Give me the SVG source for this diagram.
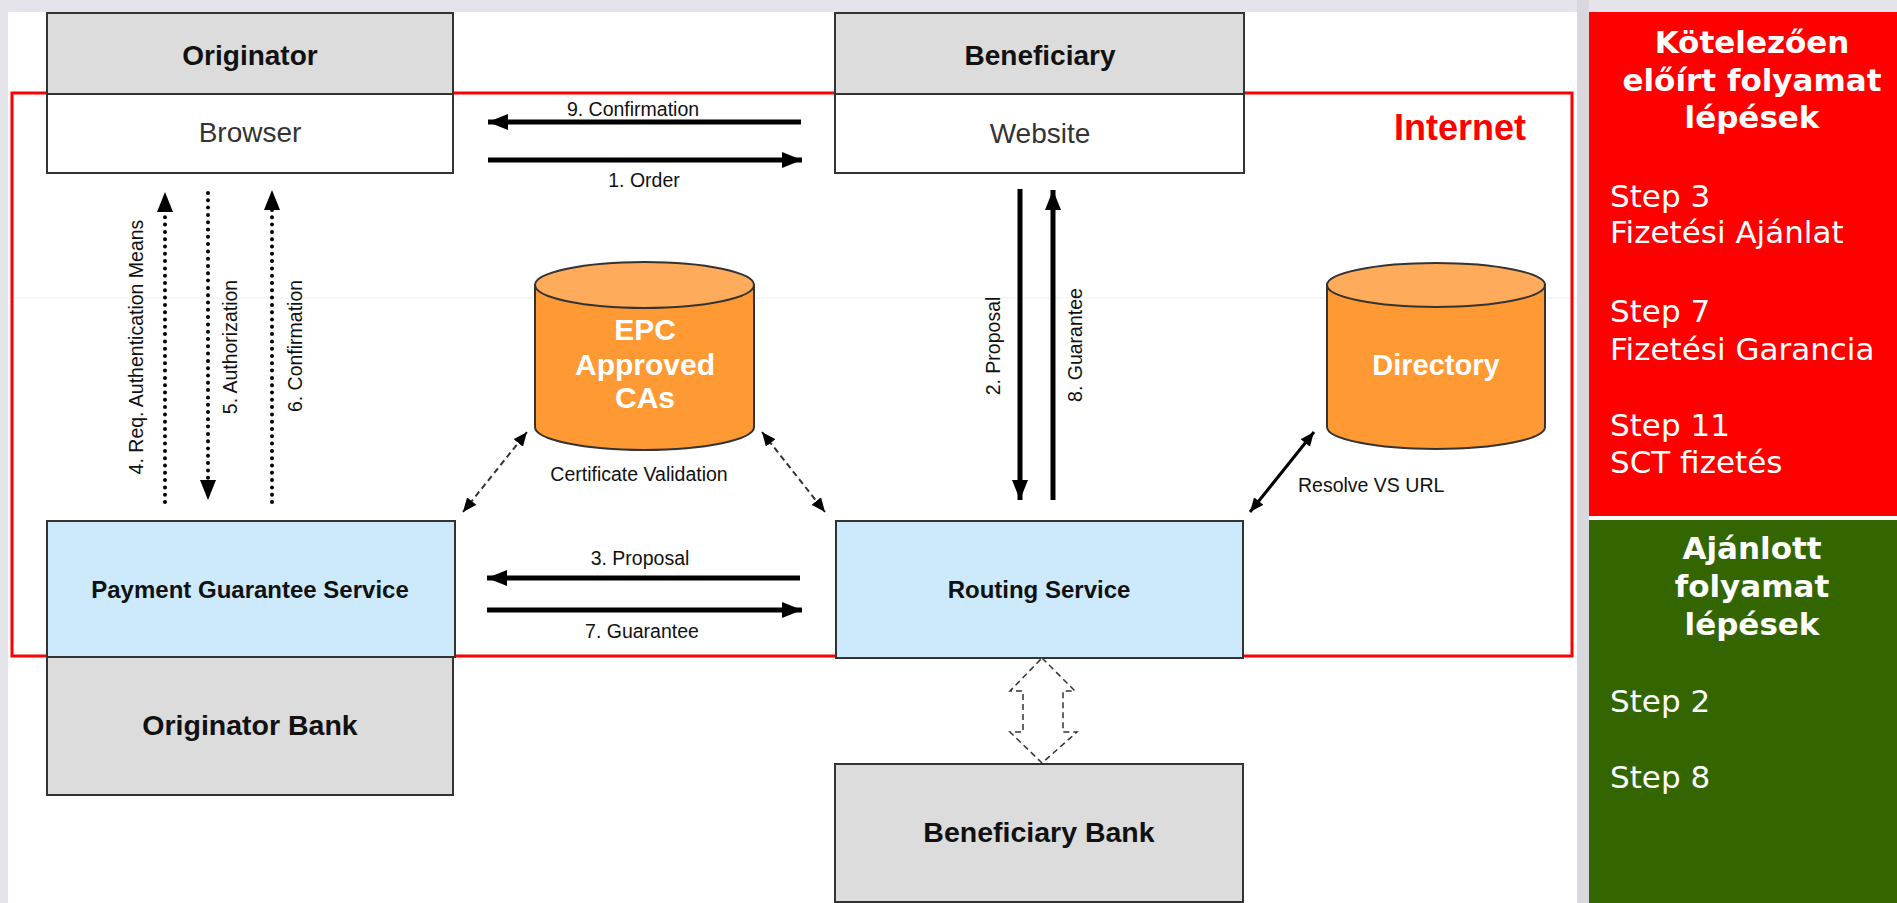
<svg xmlns="http://www.w3.org/2000/svg" width="1897" height="903" viewBox="0 0 1897 903">
<style>
.box{stroke:#333;stroke-width:2}
.hdr{fill:#dcdcdc}
.wht{fill:#fff}
.blu{fill:#cceafb}
.t{font-family:"Liberation Sans",Arial,sans-serif;fill:#111}
.b{font-weight:bold}
.lbl{font-family:"Liberation Sans",Arial,sans-serif;font-size:19.5px;fill:#111}
.p{font-family:"DejaVu Sans",Verdana,sans-serif;font-size:31px;fill:#fff}
.thick{stroke:#000;stroke-width:5;fill:none}
.dot{stroke:#000;stroke-width:4;stroke-linecap:round;stroke-dasharray:0 7.3;fill:none}
.dash{stroke:#333;stroke-width:2;stroke-dasharray:6 4;fill:none}
.cylb{fill:#ff9933;stroke:#333;stroke-width:2}
.cylt{fill:#ffab5c;stroke:#333;stroke-width:2}
</style>
<defs>
<marker id="ah" markerUnits="userSpaceOnUse" markerWidth="20" markerHeight="16" refX="20" refY="8" orient="auto-start-reverse"><path d="M0,0 L20,8 L0,16 z" fill="#000"/></marker>
<marker id="ahs" markerUnits="userSpaceOnUse" markerWidth="14" markerHeight="12" refX="14" refY="6" orient="auto-start-reverse"><path d="M0,0 L14,6 L0,12 z" fill="#000"/></marker>
</defs>
<rect x="0" y="0" width="1897" height="903" fill="#fff"/>
<rect x="0" y="0" width="1897" height="12" fill="#e4e4ea"/>
<rect x="0" y="0" width="8" height="903" fill="#e4e4ea"/>
<rect x="1577" y="0" width="12" height="903" fill="#d8d8de"/>
<line x1="8" y1="298" x2="1577" y2="298" stroke="#eeeeee" stroke-width="1"/>
<g id="internet">
<rect x="12" y="93" width="1560" height="563" fill="none" stroke="#ff0000" stroke-width="3"/>
<text class="t b" x="1460" y="140" font-size="36" text-anchor="middle" style="fill:#ff0000">Internet</text>
</g>
<g id="originator">
<rect class="box hdr" x="47" y="13" width="406" height="81"/>
<rect class="box wht" x="47" y="94" width="406" height="79"/>
<text class="t b" x="250" y="65" font-size="28" text-anchor="middle">Originator</text>
<text class="t" x="250" y="142" font-size="28" text-anchor="middle" style="fill:#333">Browser</text>
</g>
<g id="beneficiary">
<rect class="box hdr" x="835" y="13" width="409" height="81"/>
<rect class="box wht" x="835" y="94" width="409" height="79"/>
<text class="t b" x="1040" y="65" font-size="28" text-anchor="middle">Beneficiary</text>
<text class="t" x="1040" y="143" font-size="28" text-anchor="middle" style="fill:#333">Website</text>
</g>
<g id="pgs">
<rect class="box blu" x="47" y="521" width="408" height="136"/>
<text class="t b" x="250" y="598" font-size="24" text-anchor="middle">Payment Guarantee Service</text>
</g>
<g id="originator-bank">
<rect class="box hdr" x="47" y="657" width="406" height="138"/>
<text class="t b" x="250" y="735" font-size="28.5" text-anchor="middle">Originator Bank</text>
</g>
<g id="routing">
<rect class="box blu" x="836" y="521" width="407" height="137"/>
<text class="t b" x="1039" y="598" font-size="24" text-anchor="middle">Routing Service</text>
</g>
<g id="beneficiary-bank">
<rect class="box hdr" x="835" y="764" width="408" height="138"/>
<text class="t b" x="1039" y="842" font-size="28.5" text-anchor="middle">Beneficiary Bank</text>
</g>
<g id="epc">
<path class="cylb" d="M535,285 L535,427 A109.5,23 0 0 0 754,427 L754,285 z"/>
<ellipse class="cylt" cx="644.5" cy="285" rx="109.5" ry="23"/>
<text class="t b" x="645" y="340" font-size="30" text-anchor="middle" style="fill:#fff">EPC</text>
<text class="t b" x="645" y="375" font-size="30" text-anchor="middle" style="fill:#fff">Approved</text>
<text class="t b" x="645" y="408" font-size="30" text-anchor="middle" style="fill:#fff">CAs</text>
</g>
<g id="directory">
<path class="cylb" d="M1327,285 L1327,427 A109,22 0 0 0 1545,427 L1545,285 z"/>
<ellipse class="cylt" cx="1436" cy="285" rx="109" ry="22"/>
<text class="t b" x="1436" y="375" font-size="29" text-anchor="middle" style="fill:#fff">Directory</text>
</g>
<g id="connectors">
<line class="thick" x1="801" y1="122" x2="488" y2="122" marker-end="url(#ah)"/>
<line class="thick" x1="488" y1="160" x2="802" y2="160" marker-end="url(#ah)"/>
<line class="thick" x1="800" y1="578" x2="487" y2="578" marker-end="url(#ah)"/>
<line class="thick" x1="487" y1="610" x2="802" y2="610" marker-end="url(#ah)"/>
<line class="thick" x1="1020" y1="189" x2="1020" y2="500" marker-end="url(#ah)"/>
<line class="thick" x1="1053" y1="500" x2="1053" y2="190" marker-end="url(#ah)"/>
<line class="dot" x1="165" y1="502" x2="165" y2="205"/>
<path d="M157,212 L165,192 L173,212 z" fill="#000"/>
<line class="dot" x1="208" y1="193" x2="208" y2="485"/>
<path d="M200,480 L208,500 L216,480 z" fill="#000"/>
<line class="dot" x1="272" y1="502" x2="272" y2="203"/>
<path d="M264,210 L272,190 L280,210 z" fill="#000"/>
<line class="dash" x1="463" y1="512" x2="527" y2="432" marker-start="url(#ahs)" marker-end="url(#ahs)"/>
<line class="dash" x1="762" y1="432" x2="825" y2="512" marker-start="url(#ahs)" marker-end="url(#ahs)"/>
<line x1="1250" y1="512" x2="1314" y2="432" stroke="#000" stroke-width="3" marker-start="url(#ahs)" marker-end="url(#ahs)"/>
<polygon points="1042,658 1075,691 1063,691 1063,732 1077,732 1042,763 1010,732 1023,732 1023,691 1010,691" fill="#fff" stroke="#333" stroke-width="1.5" stroke-dasharray="6 4"/>
<text class="lbl" x="633" y="116" text-anchor="middle">9. Confirmation</text>
<text class="lbl" x="644" y="187" text-anchor="middle">1. Order</text>
<text class="lbl" x="640" y="565" text-anchor="middle">3. Proposal</text>
<text class="lbl" x="642" y="638" text-anchor="middle">7. Guarantee</text>
<text class="lbl" x="639" y="481" text-anchor="middle">Certificate Validation</text>
<text class="lbl" x="1298" y="492">Resolve VS URL</text>
<text class="lbl" text-anchor="middle" transform="translate(143,347) rotate(-90)">4. Req. Authentication Means</text>
<text class="lbl" text-anchor="middle" transform="translate(237,347) rotate(-90)">5. Authorization</text>
<text class="lbl" text-anchor="middle" transform="translate(302,346) rotate(-90)">6. Confirmation</text>
<text class="lbl" text-anchor="middle" transform="translate(1000,346) rotate(-90)">2. Proposal</text>
<text class="lbl" text-anchor="middle" transform="translate(1082,345) rotate(-90)">8. Guarantee</text>
</g>
<g id="panel-mandatory">
<rect x="1589" y="12" width="308" height="504" fill="#ff0000"/>
<text class="p" x="1752" y="53" text-anchor="middle" font-weight="bold">Kötelezően</text>
<text class="p" x="1752" y="91" text-anchor="middle" font-weight="bold">előírt folyamat</text>
<text class="p" x="1752" y="128" text-anchor="middle" font-weight="bold">lépések</text>
<text class="p" x="1610" y="207">Step 3</text>
<text class="p" x="1610" y="243">Fizetési Ajánlat</text>
<text class="p" x="1610" y="322">Step 7</text>
<text class="p" x="1610" y="360">Fizetési Garancia</text>
<text class="p" x="1610" y="436">Step 11</text>
<text class="p" x="1610" y="473">SCT fizetés</text>
</g>
<g id="panel-recommended">
<rect x="1589" y="520" width="308" height="383" fill="#336600"/>
<text class="p" x="1752" y="559" text-anchor="middle" font-weight="bold">Ajánlott</text>
<text class="p" x="1752" y="597" text-anchor="middle" font-weight="bold">folyamat</text>
<text class="p" x="1752" y="635" text-anchor="middle" font-weight="bold">lépések</text>
<text class="p" x="1610" y="712">Step 2</text>
<text class="p" x="1610" y="788">Step 8</text>
</g>
</svg>
